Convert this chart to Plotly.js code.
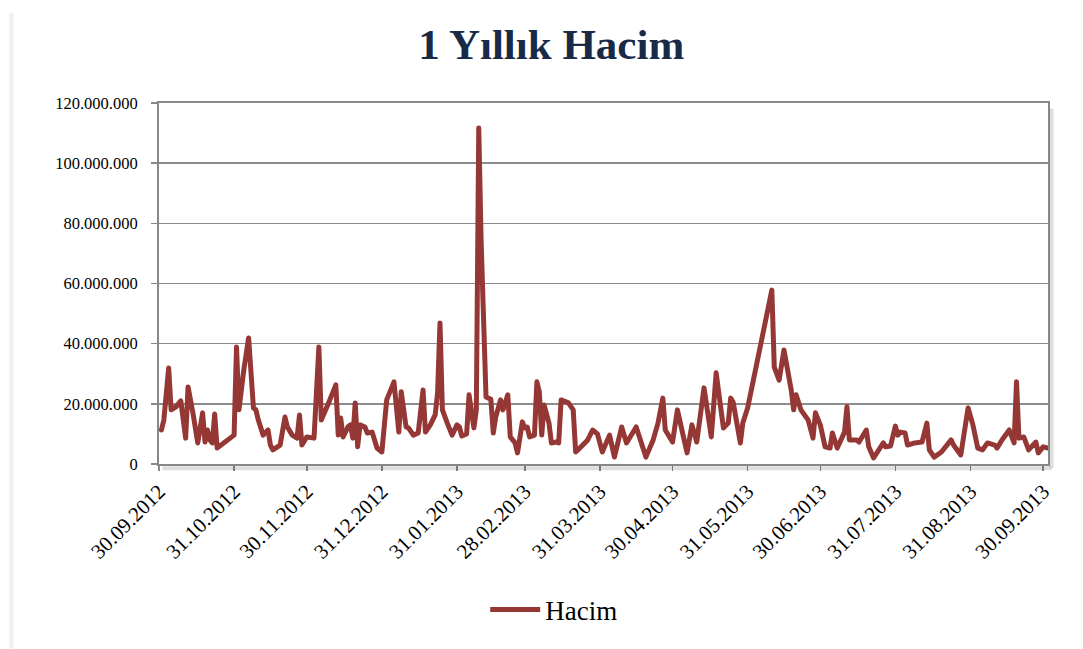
<!DOCTYPE html>
<html><head><meta charset="utf-8">
<script src="https://cdn.plot.ly/plotly-3.0.1.min.js"></script>
<style>
html,body{margin:0;padding:0;background:#fff;}
#chart{width:1083px;height:649px;}
.scatterlayer path.js-line{stroke-linejoin:round;stroke-linecap:round;}
</style>
</head><body><div id="chart"></div>
<script>
const dates = [
"2012-10-01","2012-10-02","2012-10-04","2012-10-05","2012-10-07","2012-10-09","2012-10-11","2012-10-12","2012-10-14","2012-10-16",
"2012-10-18","2012-10-19","2012-10-20","2012-10-21","2012-10-22","2012-10-23","2012-10-24","2012-10-31","2012-11-01","2012-11-02",
"2012-11-04","2012-11-06","2012-11-08","2012-11-09","2012-11-10","2012-11-12","2012-11-14","2012-11-15","2012-11-16","2012-11-19",
"2012-11-21","2012-11-22","2012-11-24","2012-11-26","2012-11-27","2012-11-28","2012-11-30","2012-12-02","2012-12-03","2012-12-05",
"2012-12-06","2012-12-09","2012-12-12","2012-12-13","2012-12-14","2012-12-15","2012-12-17","2012-12-18","2012-12-19","2012-12-20",
"2012-12-21","2012-12-22","2012-12-24","2012-12-25","2012-12-27","2012-12-29","2012-12-31","2013-01-02","2013-01-03","2013-01-05",
"2013-01-06","2013-01-07","2013-01-08","2013-01-10","2013-01-11","2013-01-13","2013-01-15","2013-01-17","2013-01-18","2013-01-20",
"2013-01-22","2013-01-23","2013-01-24","2013-01-25","2013-01-27","2013-01-29","2013-01-31","2013-02-01","2013-02-02","2013-02-04",
"2013-02-05","2013-02-07","2013-02-08","2013-02-09","2013-02-10","2013-02-12","2013-02-14","2013-02-15","2013-02-16","2013-02-18",
"2013-02-19","2013-02-21","2013-02-22","2013-02-24","2013-02-25","2013-02-27","2013-02-28","2013-03-01","2013-03-02","2013-03-04",
"2013-03-05","2013-03-06","2013-03-07","2013-03-08","2013-03-10","2013-03-11","2013-03-13","2013-03-14","2013-03-15","2013-03-18",
"2013-03-20","2013-03-21","2013-03-22","2013-03-25","2013-03-26","2013-03-28","2013-03-30","2013-04-01","2013-04-04","2013-04-06",
"2013-04-09","2013-04-11","2013-04-15","2013-04-19","2013-04-22","2013-04-24","2013-04-26","2013-04-27","2013-04-30","2013-05-02",
"2013-05-04","2013-05-06","2013-05-08","2013-05-10","2013-05-13","2013-05-16","2013-05-18","2013-05-21","2013-05-23","2013-05-24",
"2013-05-25","2013-05-28","2013-05-29","2013-05-31","2013-06-10","2013-06-11","2013-06-13","2013-06-15","2013-06-18","2013-06-19",
"2013-06-20","2013-06-22","2013-06-25","2013-06-27","2013-06-28","2013-06-30","2013-07-02","2013-07-04","2013-07-05","2013-07-07",
"2013-07-10","2013-07-11","2013-07-12","2013-07-15","2013-07-16","2013-07-19","2013-07-20","2013-07-22","2013-07-26","2013-07-27",
"2013-07-29","2013-07-31","2013-08-01","2013-08-02","2013-08-04","2013-08-05","2013-08-08","2013-08-11","2013-08-13","2013-08-14",
"2013-08-16","2013-08-19","2013-08-23","2013-08-24","2013-08-27","2013-08-30","2013-09-01","2013-09-03","2013-09-05","2013-09-07",
"2013-09-10","2013-09-11","2013-09-13","2013-09-16","2013-09-18","2013-09-19","2013-09-20","2013-09-22","2013-09-24","2013-09-27",
"2013-09-28","2013-09-30","2013-10-02"
];
const hacim = [
11.3e6,14.6e6,31.9e6,18e6,19e6,21e6,8.6e6,25.6e6,17e6,7e6,
17e6,7.3e6,11.3e6,8e6,7e6,16.6e6,5.3e6,9.6e6,38.9e6,18e6,
31.2e6,41.9e6,18.6e6,18e6,14.6e6,9.6e6,11.3e6,6.3e6,4.7e6,6.3e6,
15.6e6,12.3e6,9.6e6,8.6e6,16.3e6,6.3e6,9e6,9e6,8.6e6,38.9e6,
14.6e6,20.3e6,26.3e6,9.6e6,15.3e6,9e6,12.3e6,13e6,8.6e6,20.3e6,
5.7e6,13e6,12.3e6,10.3e6,10.6e6,5.3e6,4e6,21.3e6,23e6,27.3e6,
19e6,10.6e6,24e6,12.3e6,12e6,9.6e6,10.3e6,24.6e6,10.6e6,13e6,
16.3e6,23.6e6,46.9e6,18e6,13.6e6,9.6e6,13e6,12.3e6,9.3e6,10e6,
23e6,12e6,18e6,111.7e6,73.5e6,22.3e6,21.5e6,10.3e6,15.6e6,21.3e6,
18e6,23e6,9e6,7e6,3.7e6,14e6,12e6,12.3e6,9e6,9.6e6,
27.3e6,24e6,9.6e6,19.6e6,13.6e6,7e6,7.3e6,7e6,21.3e6,20.3e6,
18e6,4e6,4.7e6,7.3e6,8e6,11.3e6,10e6,4e6,9.6e6,2.3e6,
12.3e6,7e6,12.3e6,2.3e6,8e6,13.6e6,21.9e6,11.3e6,7.3e6,18e6,
10.3e6,3.7e6,13e6,7.3e6,25.3e6,9e6,30.3e6,12e6,13.6e6,21.9e6,
20.6e6,7e6,13.6e6,18.6e6,57.8e6,32.2e6,27.9e6,37.9e6,24.6e6,18e6,
23e6,18e6,14.6e6,8.6e6,17e6,13e6,5.7e6,5.3e6,10.3e6,5.3e6,
10.6e6,19e6,8e6,8e6,7.3e6,11.3e6,5.7e6,2e6,7e6,5.7e6,
6e6,12.6e6,9.6e6,10.6e6,10.3e6,6.3e6,7e6,7.3e6,13.6e6,4.7e6,
2.3e6,4e6,8e6,6.3e6,3e6,18.6e6,13e6,5.3e6,4.7e6,7e6,
6.3e6,5.3e6,8e6,11.3e6,7e6,27.3e6,8.6e6,9e6,4.7e6,7.3e6,
3.7e6,5.7e6,5.3e6
];
const tickDates = ["2012-09-30","2012-10-31","2012-11-30","2012-12-31","2013-01-31","2013-02-28","2013-03-31","2013-04-30","2013-05-31","2013-06-30","2013-07-31","2013-08-31","2013-09-30"];
const tickLabels = ["30.09.2012","31.10.2012","30.11.2012","31.12.2012","31.01.2013","28.02.2013","31.03.2013","30.04.2013","31.05.2013","30.06.2013","31.07.2013","31.08.2013","30.09.2013"];
const yTicks = [0,20000000,40000000,60000000,80000000,100000000,120000000];
const seriesName = "Hacim";
const chartTitle = "1 Yıllık Hacim";

const serif = "Liberation Serif, Times New Roman, serif";
const trace = {
  x: dates, y: hacim, type: "scatter", mode: "lines", name: seriesName,
  line: {color: "#953735", width: 5},
  showlegend: true
};
const layout = {
  width: 1083, height: 649,
  margin: {l: 159, r: 35, t: 103, b: 185},
  paper_bgcolor: "#ffffff", plot_bgcolor: "#ffffff",
  separators: ",.",
  title: {
    text: "<b>" + chartTitle + "</b>",
    font: {family: serif, size: 43, color: "#182A47"},
    x: 0.509, xanchor: "center", xref: "container",
    y: 0.932, yanchor: "middle", yref: "container"
  },
  xaxis: {
    type: "date",
    range: ["2012-09-30", "2013-10-02"],
    tickmode: "array", tickvals: tickDates, ticktext: tickLabels,
    tickangle: -45,
    tickfont: {family: serif, size: 21, color: "#000"},
    ticks: "outside", ticklen: 5, tickcolor: "#888", tickwidth: 1.5,
    showgrid: false, zeroline: false,
    showline: true, linecolor: "#888", linewidth: 2, mirror: true
  },
  yaxis: {
    range: [0, 120000000],
    tickmode: "array", tickvals: yTicks,
    tickformat: ",d",
    tickfont: {family: serif, size: 16.5, color: "#000"},
    ticks: "outside", ticklen: 6, tickcolor: "#888", tickwidth: 1.5,
    ticklabelstandoff: 10,
    showgrid: true, gridcolor: "#8c8c8c", gridwidth: 1.5,
    zeroline: false,
    showline: true, linecolor: "#888", linewidth: 2, mirror: true
  },
  legend: {
    orientation: "h",
    xref: "container", yref: "container",
    x: 0.448, xanchor: "left",
    y: 0.06, yanchor: "middle",
    itemwidth: 50,
    font: {family: serif, size: 27, color: "#000"},
    bgcolor: "rgba(0,0,0,0)"
  },
  shapes: [
    {type: "line", xref: "paper", yref: "paper", x0: 1.004, x1: 1.004, y0: -0.012, y1: 0.985,
     line: {color: "rgba(0,0,0,0.13)", width: 4}},
    {type: "line", xref: "paper", yref: "paper", x0: 0.004, x1: 1.004, y0: -0.012, y1: -0.012,
     line: {color: "rgba(0,0,0,0.13)", width: 4}},
    {type: "line", xref: "paper", yref: "paper", x0: -0.166, x1: -0.166, y0: -0.512, y1: 1.25,
     line: {color: "rgba(0,0,0,0.06)", width: 4}}
  ]
};
Plotly.newPlot("chart", [trace], layout, {staticPlot: true, displayModeBar: false});
</script>
</body></html>
